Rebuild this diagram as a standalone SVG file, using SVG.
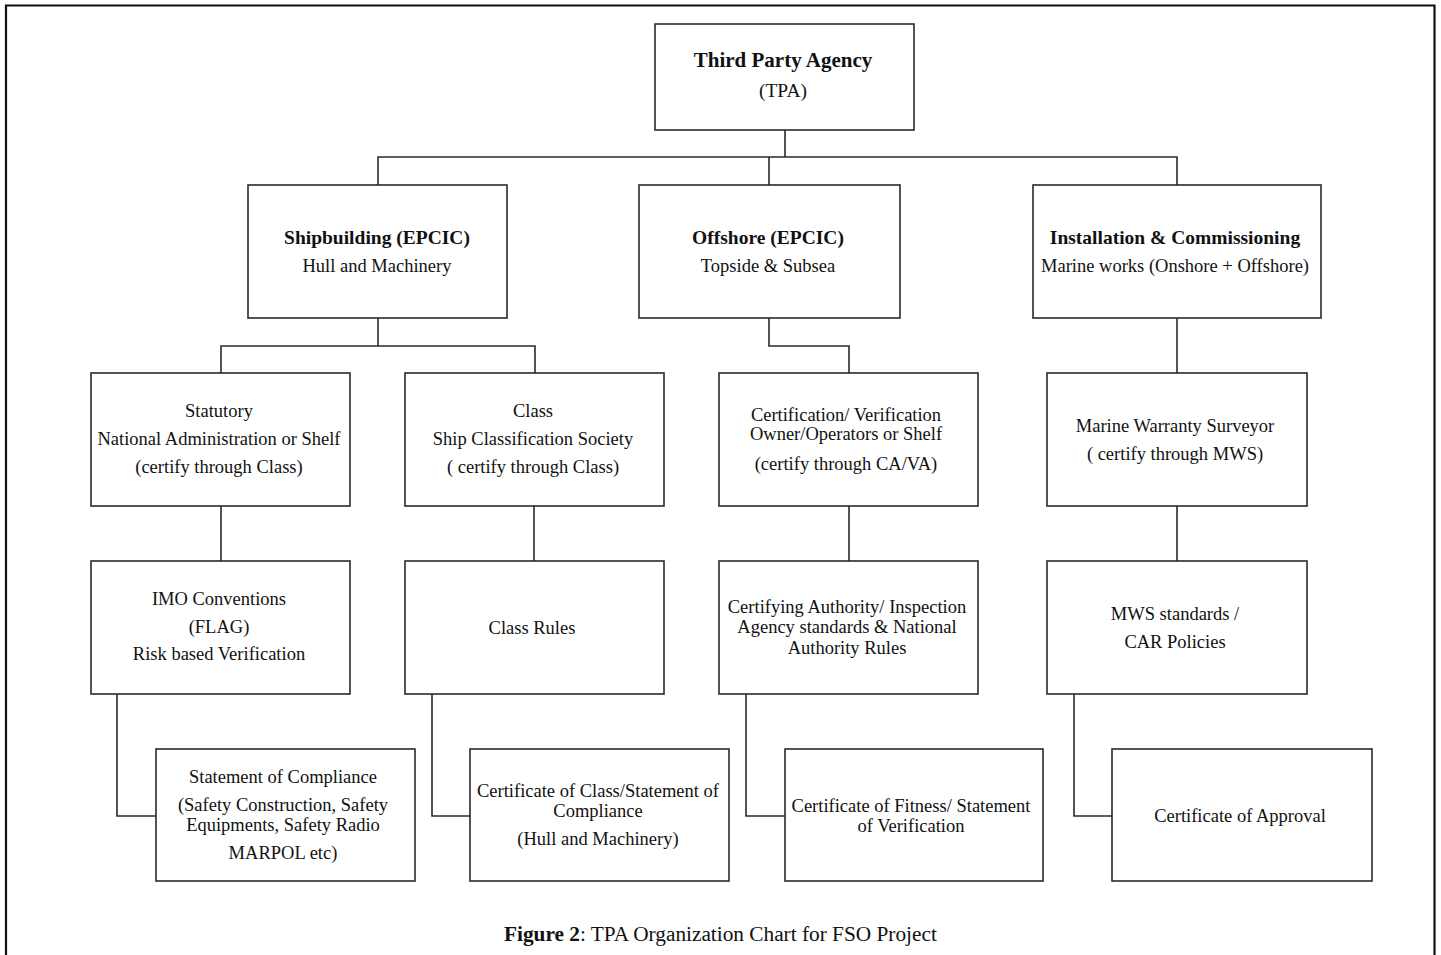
<svg xmlns="http://www.w3.org/2000/svg" width="1441" height="955" viewBox="0 0 1441 955">
<style>
.box{fill:#fff;stroke:#2a2a2a;stroke-width:1.6}
.ln{fill:none;stroke:#2a2a2a;stroke-width:1.6}
text{font-family:"Liberation Serif","Times New Roman",serif;font-size:18.5px;fill:#111;text-anchor:middle}
.b{font-weight:bold;font-size:19.5px}
.cap{font-size:21.3px;text-anchor:start}
</style>
<rect x="0" y="0" width="1441" height="955" fill="#fff"/>
<path d="M6,956 V5.5 H1434.5 V956" fill="none" stroke="#111" stroke-width="2.2"/>
<g id="connectors">
<path class="ln" d="M785,130 V157 M378,185 V157 H1177 V185 M769,157 V185"/>
<path class="ln" d="M378,318 V346 M221,373 V346 H535 V373"/>
<path class="ln" d="M769,318 V346 H849 V373"/>
<path class="ln" d="M1177,318 V373"/>
<path class="ln" d="M221,506 V561 M534,506 V561 M849,506 V561 M1177,506 V561"/>
<path class="ln" d="M117,694 V816 H156 M432,694 V816 H470 M746,694 V816 H785 M1074,694 V816 H1112"/>
</g>
<g id="tpa"><rect class="box" x="655" y="24" width="259" height="106"/>
<text class="b" x="783" y="67" style="font-size:21px">Third Party Agency</text><text x="783" y="97" style="font-size:19.5px">(TPA)</text></g>
<g id="shipbuilding"><rect class="box" x="248" y="185" width="259" height="133"/>
<text class="b" x="377" y="244">Shipbuilding (EPCIC)</text><text x="377" y="272">Hull and Machinery</text></g>
<g id="offshore"><rect class="box" x="639" y="185" width="261" height="133"/>
<text class="b" x="768" y="244">Offshore (EPCIC)</text><text x="768" y="272">Topside &amp; Subsea</text></g>
<g id="installation"><rect class="box" x="1033" y="185" width="288" height="133"/>
<text class="b" x="1175" y="244">Installation &amp; Commissioning</text><text x="1175" y="272">Marine works (Onshore + Offshore)</text></g>
<g id="statutory"><rect class="box" x="91" y="373" width="259" height="133"/>
<text x="219" y="417">Statutory</text><text x="219" y="445">National Administration  or Shelf</text><text x="219" y="473">(certify through Class)</text></g>
<g id="class"><rect class="box" x="405" y="373" width="259" height="133"/>
<text x="533" y="417">Class</text><text x="533" y="445">Ship Classification Society</text><text x="533" y="473">( certify through Class)</text></g>
<g id="certification"><rect class="box" x="719" y="373" width="259" height="133"/>
<text x="846" y="421">Certification/ Verification</text><text x="846" y="440">Owner/Operators or Shelf</text><text x="846" y="470">(certify through CA/VA)</text></g>
<g id="mws"><rect class="box" x="1047" y="373" width="260" height="133"/>
<text x="1175" y="432">Marine Warranty Surveyor</text><text x="1175" y="460">( certify through MWS)</text></g>
<g id="imo"><rect class="box" x="91" y="561" width="259" height="133"/>
<text x="219" y="605">IMO Conventions</text><text x="219" y="633">(FLAG)</text><text x="219" y="660">Risk based Verification</text></g>
<g id="classrules"><rect class="box" x="405" y="561" width="259" height="133"/>
<text x="532" y="634">Class Rules</text></g>
<g id="certauth"><rect class="box" x="719" y="561" width="259" height="133"/>
<text x="847" y="613">Certifying Authority/ Inspection</text><text x="847" y="633">Agency standards &amp; National</text><text x="847" y="654">Authority Rules</text></g>
<g id="mwsstd"><rect class="box" x="1047" y="561" width="260" height="133"/>
<text x="1175" y="620">MWS standards  /</text><text x="1175" y="648">CAR Policies</text></g>
<g id="soc"><rect class="box" x="156" y="749" width="259" height="132"/>
<text x="283" y="783">Statement of Compliance</text><text x="283" y="811">(Safety Construction,  Safety</text><text x="283" y="831">Equipments, Safety Radio</text><text x="283" y="859">MARPOL  etc)</text></g>
<g id="coc"><rect class="box" x="470" y="749" width="259" height="132"/>
<text x="598" y="797">Certificate of Class/Statement  of</text><text x="598" y="817">Compliance</text><text x="598" y="845">(Hull and Machinery)</text></g>
<g id="cof"><rect class="box" x="785" y="749" width="258" height="132"/>
<text x="911" y="812">Certificate of Fitness/ Statement</text><text x="911" y="832">of Verification</text></g>
<g id="coa"><rect class="box" x="1112" y="749" width="260" height="132"/>
<text x="1240" y="822">Certificate of Approval</text></g>
<text class="cap" x="504" y="941"><tspan font-weight="bold">Figure 2</tspan>: TPA Organization Chart for FSO Project</text>
</svg>
